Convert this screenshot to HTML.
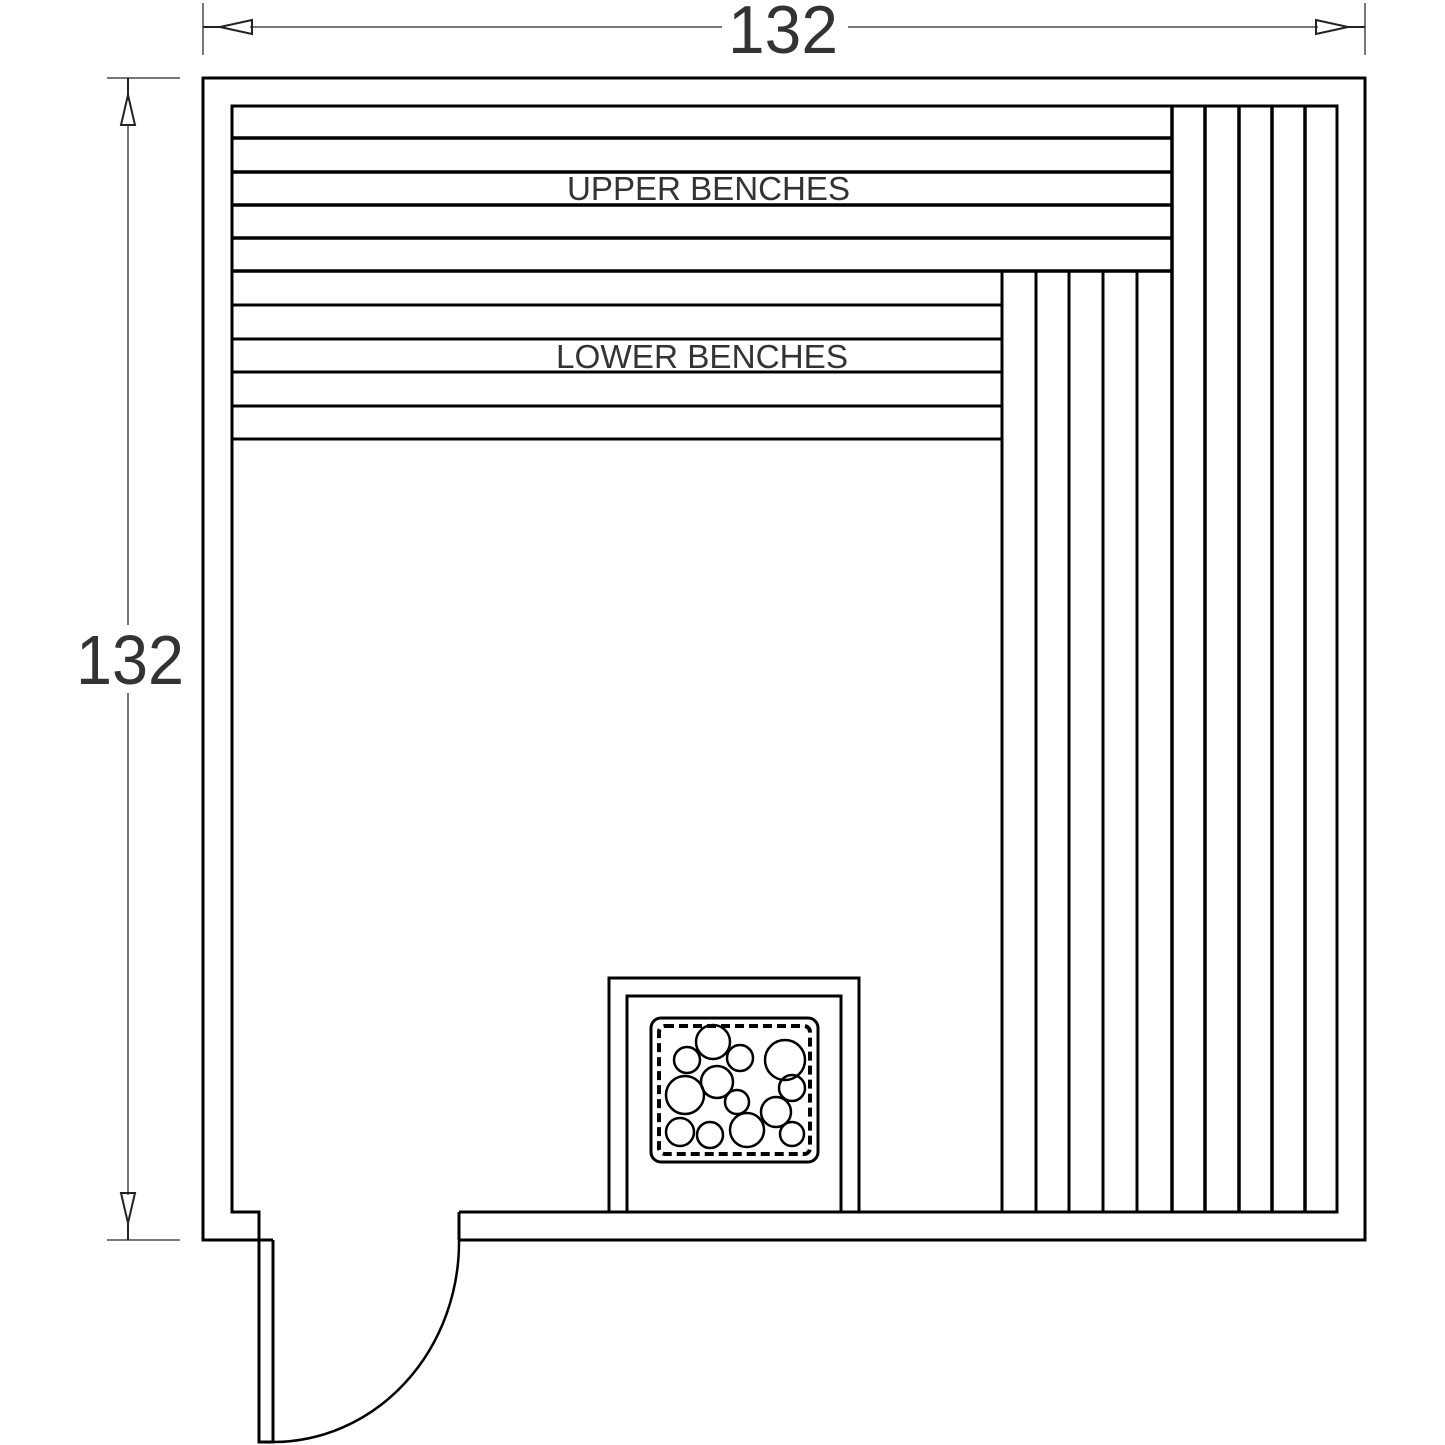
<!DOCTYPE html>
<html><head><meta charset="utf-8"><style>html,body{margin:0;padding:0;background:#fff}svg{display:block}</style></head>
<body>
<svg width="1445" height="1445" viewBox="0 0 1445 1445" xmlns="http://www.w3.org/2000/svg" fill="none" stroke="#000">
<!-- dimensions -->
<g stroke="#777" stroke-width="2">
<line x1="203" y1="3" x2="203" y2="55"/><line x1="1365" y1="3" x2="1365" y2="55"/>
<line x1="250" y1="27" x2="722" y2="27"/><line x1="848" y1="27" x2="1318" y2="27"/>
<line x1="107" y1="78" x2="180" y2="78"/><line x1="107" y1="1240" x2="180" y2="1240"/>
<line x1="128" y1="125" x2="128" y2="625"/><line x1="128" y1="693" x2="128" y2="1195"/>
</g>
<g stroke="#222" stroke-width="2">
<path d="M203 27 L220 27 L252 20 L252 34 L220 27"/>
<path d="M1365 27 L1348 27 L1316 20 L1316 34 L1348 27"/>
<path d="M128 78 L128 95 L121 125 L135 125 L128 95"/>
<path d="M128 1240 L128 1223 L121 1193 L135 1193 L128 1223"/>
</g>
<g fill="#333" stroke="none" font-family="Liberation Sans, sans-serif" font-weight="normal">
<text x="783" y="53" font-size="68" text-anchor="middle" textLength="110" lengthAdjust="spacingAndGlyphs">132</text>
<text x="130" y="684" font-size="70" text-anchor="middle" textLength="108" lengthAdjust="spacingAndGlyphs">132</text>
<text x="567" y="200" font-size="33" textLength="283" lengthAdjust="spacingAndGlyphs">UPPER  BENCHES</text>
<text x="556" y="368" font-size="33" textLength="292" lengthAdjust="spacingAndGlyphs">LOWER  BENCHES</text>
</g>
<!-- walls -->
<g stroke-width="3">
<path d="M459 1240 L1365 1240 L1365 78 L203 78 L203 1240 L273 1240"/>
<path d="M459 1212 L1337 1212 L1337 106 L232 106 L232 1212 L259 1212 L259 1442 L273 1442 L273 1240"/>
<line x1="459" y1="1212" x2="459" y2="1240"/>
<path d="M459 1240 A186 200 0 0 1 273 1442" stroke-width="2.5"/>
</g>
<!-- upper benches -->
<g stroke-width="3.5">
<line x1="232" y1="138" x2="1172" y2="138"/>
<line x1="232" y1="172" x2="1172" y2="172"/>
<line x1="232" y1="205" x2="1172" y2="205"/>
<line x1="232" y1="238" x2="1172" y2="238"/>
<line x1="232" y1="271" x2="1172" y2="271"/>
<line x1="1172" y1="106" x2="1172" y2="1212"/>
<line x1="1205" y1="106" x2="1205" y2="1212"/>
<line x1="1239" y1="106" x2="1239" y2="1212"/>
<line x1="1272" y1="106" x2="1272" y2="1212"/>
<line x1="1305" y1="106" x2="1305" y2="1212"/>
</g>
<!-- lower benches -->
<g stroke-width="3">
<line x1="232" y1="305" x2="1002" y2="305"/>
<line x1="232" y1="339" x2="1002" y2="339"/>
<line x1="232" y1="372" x2="1002" y2="372"/>
<line x1="232" y1="406" x2="1002" y2="406"/>
<line x1="232" y1="439" x2="1002" y2="439"/>
<line x1="1002" y1="271" x2="1002" y2="1212"/>
<line x1="1036" y1="271" x2="1036" y2="1212"/>
<line x1="1069" y1="271" x2="1069" y2="1212"/>
<line x1="1103" y1="271" x2="1103" y2="1212"/>
<line x1="1137" y1="271" x2="1137" y2="1212"/>
</g>
<!-- heater -->
<g stroke-width="3">
<path d="M609 1212 L609 978 L859 978 L859 1212"/>
<path d="M627 1212 L627 996 L841 996 L841 1212"/>
<rect x="651" y="1018" width="167" height="144" rx="10"/>
<rect x="659" y="1026" width="151" height="128" rx="6" stroke-dasharray="9 5" stroke-width="4"/>
<g stroke-width="2.5">
<circle cx="687" cy="1060" r="13"/>
<circle cx="713" cy="1042" r="17"/>
<circle cx="740" cy="1058" r="13"/>
<circle cx="785" cy="1060" r="20"/>
<circle cx="685" cy="1095" r="19"/>
<circle cx="717" cy="1082" r="16"/>
<circle cx="737" cy="1102" r="12"/>
<circle cx="792" cy="1088" r="13"/>
<circle cx="776" cy="1112" r="15"/>
<circle cx="710" cy="1135" r="13"/>
<circle cx="747" cy="1130" r="17"/>
<circle cx="792" cy="1134" r="12"/>
<circle cx="680" cy="1132" r="14"/>
</g>
</g>
</svg>
</body></html>
